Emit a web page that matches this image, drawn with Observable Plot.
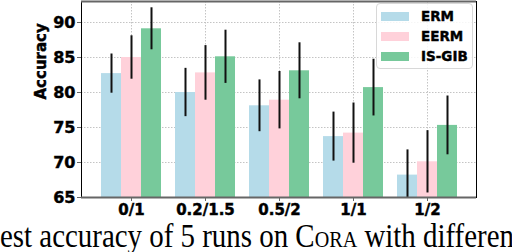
<!DOCTYPE html>
<html>
<head>
<meta charset="utf-8">
<script src="https://cdn.jsdelivr.net/npm/d3@7"></script>
<script src="https://cdn.jsdelivr.net/npm/@observablehq/plot@0.6"></script>
<style>
  body { margin: 0; background: white; }
  #wrap { position: relative; width: 512px; height: 252px; overflow: hidden; background: white; }
  #wrap svg text { font-weight: bold; stroke: black; stroke-width: 0.45px; }
  #wrap svg#cap text { font-weight: normal; stroke: none; }
  #legend { position: absolute; left: 376px; top: 3px; width: 95px; height: 64px;
            border: 1px solid #d8d8d8; border-radius: 4px; background: rgba(255,255,255,0.85);
            font-family: "DejaVu Sans"; font-weight: bold; font-size: 13.5px; -webkit-text-stroke: 0.4px black; }
  .row { position: absolute; left: 4px; height: 14px; display: flex; align-items: center; }
  .sw { width: 28px; height: 9px; margin-right: 12px; }
  #cap { position: absolute; left: 0; top: 220px; }
</style>
</head>
<body>
<div id="wrap"></div>
<script>
const groups = ["0/1", "0.2/1.5", "0.5/2", "1/1", "1/2"];
const methods = ["ERM", "EERM", "IS-GIB"];
const ermMean  = [82.7, 80.0, 78.1, 73.7, 68.2];
const ermStd   = [2.8, 3.45, 3.7, 3.5, 3.6];
const eermMean = [85.0, 82.8, 78.9, 74.2, 70.1];
const eermStd  = [3.1, 3.9, 4.1, 4.3, 4.45];
const gibMean  = [89.1, 85.1, 83.1, 80.7, 75.3];
const gibStd   = [3.0, 3.8, 4.0, 4.05, 4.2];
const yTicks = [65, 70, 75, 80, 85, 90];
const yDomain = [65, 93];
const caption = ["est accuracy of 5 runs on ", "Cora", " with differen"];

const colors = ["#b5dbe9", "#ffd1da", "#77c99b"];
const offsets = [-20, 0, 20];
const means = [ermMean, eermMean, gibMean];
const stds = [ermStd, eermStd, gibStd];

const series = methods.map((m, k) => groups.map((g, i) => ({group: g, method: m, mean: means[k][i], std: stds[k][i]})));

const grid = {stroke: "#c4c4c4", strokeOpacity: 1, strokeDasharray: "1.5,1.5", strokeWidth: 1};

const chart = Plot.plot({
  width: 512, height: 220,
  marginLeft: 81, marginRight: 36, marginTop: 1, marginBottom: 23,
  x: {type: "band", domain: groups, paddingInner: 0.733, paddingOuter: 0.507},
  y: {domain: yDomain},
  style: {fontFamily: "DejaVu Sans", fontWeight: "bold", color: "black", background: "white"},
  marks: [
    Plot.gridY(yTicks, grid),
    Plot.gridX(groups, grid),
    ...series.map((d, k) => Plot.barY(d, {x: "group", y1: yDomain[0], y2: "mean", fill: colors[k], dx: offsets[k], inset: 0})),
    ...series.map((d, k) => Plot.ruleX(d, {x: "group", y1: r => r.mean - r.std, y2: r => r.mean + r.std, dx: offsets[k], stroke: "#111", strokeWidth: 2, clip: true})),
    Plot.frame({stroke: "black"}),
    Plot.ruleY(yDomain, {stroke: "#666", strokeWidth: 2}),
    Plot.axisY(yTicks, {tickSize: 4, tickPadding: 2, fontSize: 16, fontWeight: "bold", stroke: "#666", fill: "black", label: null}),
    Plot.axisX({tickSize: 4, tickPadding: 3, fontSize: 15, fontWeight: "bold", stroke: "#666", fill: "black", label: null}),
    Plot.text(["Accuracy"], {frameAnchor: "left", dx: -40, rotate: -90, fontSize: 15, fontWeight: "bold", fill: "black"})
  ]
});
const wrap = document.getElementById("wrap");
wrap.appendChild(chart);

// legend
const leg = document.createElement("div");
leg.id = "legend";
const rowTops = [5, 25, 45];
methods.forEach((m, k) => {
  const r = document.createElement("div");
  r.className = "row";
  r.style.top = rowTops[k] + "px";
  const s = document.createElement("div");
  s.className = "sw"; s.style.background = colors[k];
  const t = document.createElement("span");
  t.textContent = m;
  r.appendChild(s); r.appendChild(t);
  leg.appendChild(r);
});
wrap.appendChild(leg);

// caption
const ns = "http://www.w3.org/2000/svg";
const cap = document.createElementNS(ns, "svg");
cap.setAttribute("id", "cap");
cap.setAttribute("width", 512); cap.setAttribute("height", 32);
const txt = document.createElementNS(ns, "text");
txt.setAttribute("x", 0); txt.setAttribute("y", 27);
txt.setAttribute("font-family", "Liberation Serif");
txt.setAttribute("font-size", 33);
txt.setAttribute("fill", "black");
caption.forEach((c, i) => {
  const ts = document.createElementNS(ns, "tspan");
  ts.textContent = c;
  if (i === 1) ts.setAttribute("style", "font-variant: small-caps");
  txt.appendChild(ts);
});
txt.setAttribute("textLength", 514);
txt.setAttribute("lengthAdjust", "spacingAndGlyphs");
cap.appendChild(txt);
wrap.appendChild(cap);
</script>
</body>
</html>
